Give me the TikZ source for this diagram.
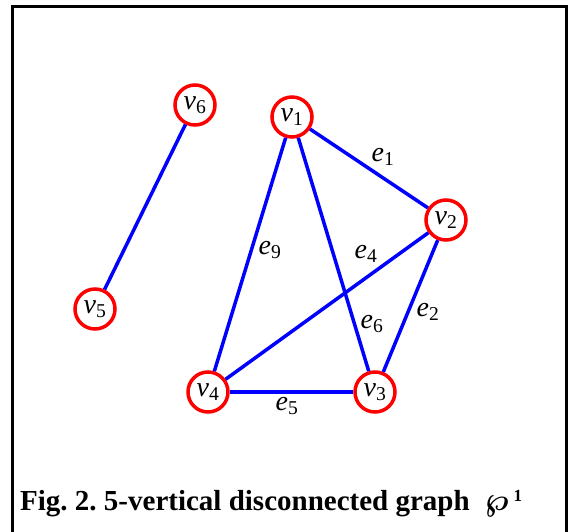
\documentclass[tikz,border=0pt]{standalone}
\usepackage{fontspec}
\setmainfont{Liberation Serif}
\usetikzlibrary{positioning}

\newcommand{\sym}[2]{\textit{#1}\textsubscript{#2}}

\begin{document}
\frenchspacing
\begin{tikzpicture}[
  x=1pt, y=-1pt,
  vertex/.style={circle, draw=red, line width=3.5pt, minimum size=40pt, inner sep=0pt,
    font=\fontsize{28}{28}\selectfont},
  link/.style={blue, line width=3.5pt},
  elabel/.style={inner sep=0pt, font=\fontsize{28}{28}\selectfont}
]
\useasboundingbox (0,0) rectangle (568,532);

% Frame
\draw[line width=3pt] (12,536) -- (12,7) -- (566,7) -- (566,536);

% Vertices
\node[vertex] (v6) at (195,105) {\sym{v}{6}};
\node[vertex] (v1) at (292,117) {\sym{v}{1}};
\node[vertex] (v2) at (446,220) {\sym{v}{2}};
\node[vertex] (v5) at (95,309) {\sym{v}{5}};
\node[vertex] (v4) at (208,392) {\sym{v}{4}};
\node[vertex] (v3) at (375,392) {\sym{v}{3}};

% Edges
\draw[link] (v6) -- (v5);
\draw[link] (v1) -- (v2);
\draw[link] (v1) -- (v4);
\draw[link] (v1) -- (v3);
\draw[link] (v2) -- (v4);
\draw[link] (v2) -- (v3);
\draw[link] (v4) -- (v3);

% Edge labels
\node[elabel] (e1) at (383,157) {\sym{e}{1}};
\node[elabel] (e9) at (270,250) {\sym{e}{9}};
\node[elabel] (e4) at (366,254) {\sym{e}{4}};
\node[elabel] (e6) at (372,324) {\sym{e}{6}};
\node[elabel] (e2) at (428,312) {\sym{e}{2}};
\node[elabel] (e5) at (287,406) {\sym{e}{5}};

% Caption
\node[anchor=base west, inner sep=0pt, font=\fontsize{29}{34}\selectfont\bfseries] (cap) at (20,510)
  {Fig. 2. 5-vertical disconnected graph\hspace{15pt}\resizebox{24pt}{!}{\mathversion{bold}$\wp$}\hspace{5pt}\raisebox{9pt}{\fontsize{17}{17}\selectfont 1}};

\end{tikzpicture}
\end{document}
